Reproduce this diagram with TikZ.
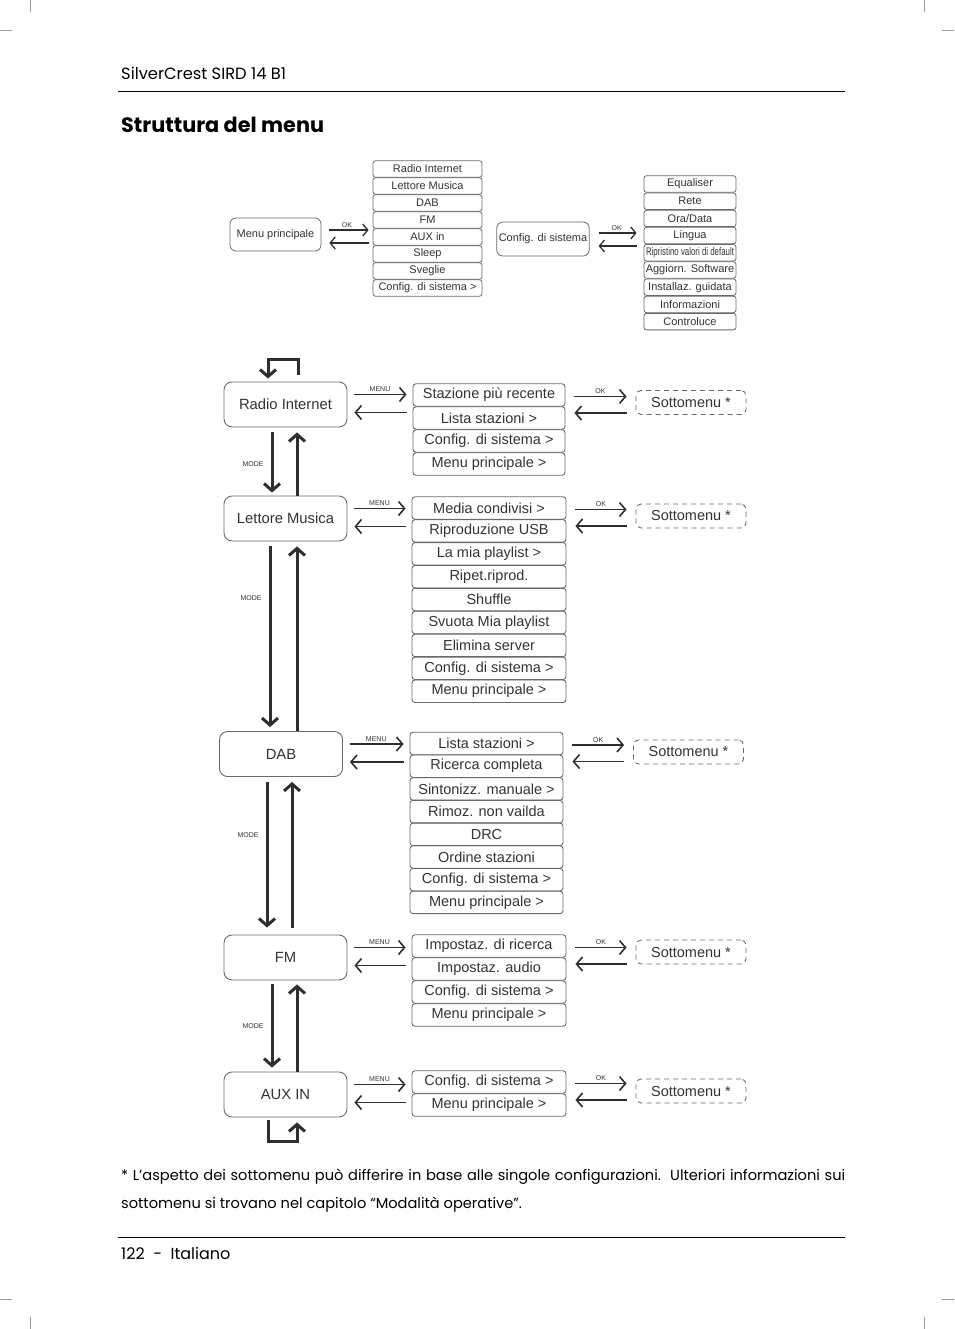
\documentclass[tikz,border=0pt]{standalone}
\usepackage{fontspec}
\usepackage{graphicx}
\setmainfont{Poppins}
\newfontfamily\diagfont{Liberation Sans}
\usetikzlibrary{arrows.meta}
\definecolor{boxgray}{HTML}{6A6A6A}
\definecolor{linegray}{HTML}{2E2E2E}
\definecolor{textgray}{HTML}{333333}
\definecolor{markgray}{HTML}{9A9A9A}

\begin{document}
\begin{tikzpicture}[x=1pt,y=-1pt,
    mainbox/.style={draw=boxgray, line width=0.9pt, rounded corners=8pt,
        minimum width=123pt, minimum height=45pt, text=textgray,
        font=\diagfont\fontsize{14.8}{16}\selectfont},
    item/.style={draw=boxgray, line width=0.9pt, rounded corners=3pt,
        minimum width=153pt, minimum height=22.5pt, inner sep=0pt, text=textgray,
        font=\diagfont\fontsize{14.5}{16}\selectfont},
    subbox/.style={draw=boxgray, line width=0.9pt, dash pattern=on 5pt off 4pt,
        rounded corners=5pt, minimum width=110pt, minimum height=24pt, text=textgray,
        font=\diagfont\fontsize{14.5}{16}\selectfont},
    topbox/.style={draw=boxgray, line width=0.8pt, rounded corners=6pt,
        minimum height=33pt, inner sep=2pt, text=textgray,
        font=\diagfont\fontsize{11}{12}\selectfont},
    topitem/.style={draw=boxgray, line width=0.8pt, rounded corners=2.5pt,
        minimum height=16.5pt, inner sep=0pt, text=textgray,
        font=\diagfont\fontsize{11}{12}\selectfont},
    menuarrow/.style={draw=linegray, line width=1.6pt,
        -{Straight Barb[length=6pt,width=14pt]}},
    toparrow/.style={draw=linegray, line width=1.3pt,
        -{Straight Barb[length=5pt,width=12pt]}},
    modearrow/.style={draw=linegray, line width=3pt,
        -{Straight Barb[length=7pt,width=16pt]}},
    lbl/.style={inner sep=1pt, text=textgray, font=\diagfont\fontsize{7}{8}\selectfont},
    cropmark/.style={draw=markgray, line width=0.8pt}
]
\useasboundingbox (0,0) rectangle (954,1329);

% crop marks
\draw[cropmark] (30,0) -- (30,12);
\draw[cropmark] (0,30) -- (12,30);
\draw[cropmark] (924,0) -- (924,12);
\draw[cropmark] (942,30) -- (954,30);
\draw[cropmark] (30,1317) -- (30,1329);
\draw[cropmark] (0,1299) -- (12,1299);
\draw[cropmark] (924,1317) -- (924,1329);
\draw[cropmark] (942,1299) -- (954,1299);

% header and title
\node[anchor=base west, inner sep=0pt, font=\fontsize{16.3}{18}\selectfont] (header) at (121,80) {SilverCrest SIRD 14 B1};
\draw[line width=0.9pt] (118,91) -- (845,91);
\node[anchor=base west, inner sep=0pt, font=\bfseries\fontsize{20.8}{22}\selectfont] (title) at (121,133) {Struttura del menu};

% Menu principale
\node[topbox, minimum width=91pt] (menup) at (275.5,234.5) {Menu principale};
\foreach \txt [count=\i] in {Radio Internet, Lettore Musica, DAB, FM, AUX in, Sleep, Sveglie, Config. di sistema >}
    \node[topitem, minimum width=109pt] (mp\i) at (427.5,{169+17*(\i-1)}) {\txt};
\draw[toparrow, shorten <=8pt, shorten >=4pt] ([yshift=4.5pt]menup.east) -- ([yshift=4.5pt]menup.east -| mp1.west)
    node[midway, above, lbl, yshift=1pt] {OK};
\draw[toparrow, shorten <=4pt, shorten >=8pt] ([yshift=-8.5pt]menup.east -| mp1.west) -- ([yshift=-8.5pt]menup.east);

% Config. di sistema
\node[topbox, minimum width=90pt, minimum height=34pt] (config) at (543,239) {Config. di sistema};
\foreach \txt [count=\i] in {Equaliser, Rete, Ora/Data, Lingua,
    \resizebox{88pt}{\height}{Ripristino valori di default},
    Aggiorn. Software, Installaz. guidata, Informazioni, Controluce}
    \node[topitem, minimum width=92pt] (cs\i) at (690,{184+17.2*(\i-1)}) {\txt};
\draw[toparrow, shorten <=9pt, shorten >=7pt] ([yshift=6pt]config.east) -- ([yshift=6pt]config.east -| cs1.west)
    node[midway, above, lbl, yshift=1pt] {OK};
\draw[toparrow, shorten <=7pt, shorten >=9pt] ([yshift=-7pt]config.east -| cs1.west) -- ([yshift=-7pt]config.east);

% Radio Internet
\node[mainbox] (ri) at (285.5,404.5) {Radio Internet};
\foreach \txt [count=\i] in {Stazione più recente, Lista stazioni >, Config. di sistema >, Menu principale >}
    \node[item, minimum width=152pt] (ri\i) at (489,{395+23*(\i-1)}) {\txt};
\node[subbox] (risub) at (691,402.5) {Sottomenu *};

% Lettore Musica
\node[mainbox] (lm) at (285.5,518.5) {Lettore Musica};
\foreach \txt [count=\i] in {Media condivisi >, Riproduzione USB, La mia playlist >, Ripet.riprod., Shuffle,
    Svuota Mia playlist, Elimina server, Config. di sistema >, Menu principale >}
    \node[item, minimum width=154pt] (lm\i) at (489,{508+22.9*(\i-1)}) {\txt};
\node[subbox] (lmsub) at (691,516) {Sottomenu *};

% DAB
\node[mainbox] (dab) at (281,754) {DAB};
\foreach \txt [count=\i] in {Lista stazioni >, Ricerca completa, Sintonizz. manuale >, Rimoz. non vailda, DRC,
    Ordine stazioni, Config. di sistema >, Menu principale >}
    \node[item] (dab\i) at (486.5,{743.5+22.7*(\i-1)}) {\txt};
\node[subbox] (dabsub) at (688.5,752) {Sottomenu *};

% FM
\node[mainbox] (fm) at (285.5,957.5) {FM};
\foreach \txt [count=\i] in {Impostaz. di ricerca, Impostaz. audio, Config. di sistema >, Menu principale >}
    \node[item, minimum width=154pt] (fm\i) at (489,{946+23*(\i-1)}) {\txt};
\node[subbox] (fmsub) at (691,952) {Sottomenu *};

% AUX IN
\node[mainbox] (aux) at (285.5,1094.5) {AUX IN};
\foreach \txt [count=\i] in {Config. di sistema >, Menu principale >}
    \node[item, minimum width=154pt] (aux\i) at (489,{1082+23*(\i-1)}) {\txt};
\node[subbox] (auxsub) at (691,1091) {Sottomenu *};

% MENU and OK arrows
\foreach \m in {ri, lm, dab, fm, aux} {
    \draw[menuarrow, shorten <=7pt, shorten >=6pt] ([yshift=10pt]\m.east) -- ([yshift=10pt]\m.east -| \m1.west)
        node[midway, above, lbl, yshift=1pt] {MENU};
    \draw[menuarrow, shorten <=6pt, shorten >=7pt] ([yshift=-8pt]\m.east -| \m1.west) -- ([yshift=-8pt]\m.east);
    \draw[menuarrow, shorten <=9pt, shorten >=9pt] ([yshift=-1.5pt]\m1.east) -- ([yshift=-1.5pt]\m1.east -| \m sub.west)
        node[midway, above, lbl, yshift=1pt] {OK};
    \draw[menuarrow, shorten <=9pt, shorten >=9pt] ([yshift=-18pt]\m1.east -| \m sub.west) -- ([yshift=-18pt]\m1.east);
}

% MODE loop above Radio Internet
\draw[modearrow, shorten >=3pt] ([xshift=12.5pt,yshift=7pt]ri.north) -- ++(0,-15) -| ([xshift=-17.5pt]ri.north);

% MODE arrows
\draw[modearrow, shorten <=5pt, shorten >=3pt] ([xshift=-13.5pt]ri.south) -- ([xshift=-13.5pt]ri.south |- lm.north)
    node[pos=0.54, anchor=east, lbl, xshift=-6pt] {MODE};
\draw[modearrow, shorten <=0pt, shorten >=5pt] ([xshift=11.5pt]ri.south |- lm.north) -- ([xshift=11.5pt]ri.south);
\draw[modearrow, shorten <=5pt, shorten >=4pt] ([xshift=-15.5pt]lm.south) -- ([xshift=-15.5pt]lm.south |- dab.north)
    node[pos=0.3, anchor=east, lbl, xshift=-6pt] {MODE};
\draw[modearrow, shorten <=0pt, shorten >=5pt] ([xshift=11.5pt]lm.south |- dab.north) -- ([xshift=11.5pt]lm.south);
\draw[modearrow, shorten <=5pt, shorten >=7pt] ([xshift=-14pt]dab.south) -- ([xshift=-14pt]dab.south |- fm.north)
    node[pos=0.37, anchor=east, lbl, xshift=-6pt] {MODE};
\draw[modearrow, shorten <=7pt, shorten >=5pt] ([xshift=11pt]dab.south |- fm.north) -- ([xshift=11pt]dab.south);
\draw[modearrow, shorten <=4pt, shorten >=4pt] ([xshift=-13.5pt]fm.south) -- ([xshift=-13.5pt]fm.south |- aux.north)
    node[pos=0.5, anchor=east, lbl, xshift=-6pt] {MODE};
\draw[modearrow, shorten <=0pt, shorten >=4pt] ([xshift=11.5pt]fm.south |- aux.north) -- ([xshift=11.5pt]fm.south);

% MODE loop below AUX IN
\draw[modearrow, shorten >=5pt] ([xshift=-17.5pt,yshift=-3pt]aux.south) -- ++(0,21) -| ([xshift=11.5pt]aux.south);

% footnote and footer
\node[anchor=base west, inner sep=0pt, font=\fontsize{14.6}{16}\selectfont] (note1) at (121,1180)
    {\makebox[724pt][s]{* L’aspetto dei sottomenu può differire in base alle singole configurazioni.\ \ Ulteriori informazioni sui}};
\node[anchor=base west, inner sep=0pt, font=\fontsize{14.6}{16}\selectfont] (note2) at (121,1208)
    {sottomenu si trovano nel capitolo “Modalità operative”.};
\draw[line width=0.9pt] (118,1237) -- (845,1237);
\node[anchor=base west, inner sep=0pt, font=\fontsize{16}{18}\selectfont] (footer) at (121,1259) {122\ \ -\ \ Italiano};
\end{tikzpicture}
\end{document}
